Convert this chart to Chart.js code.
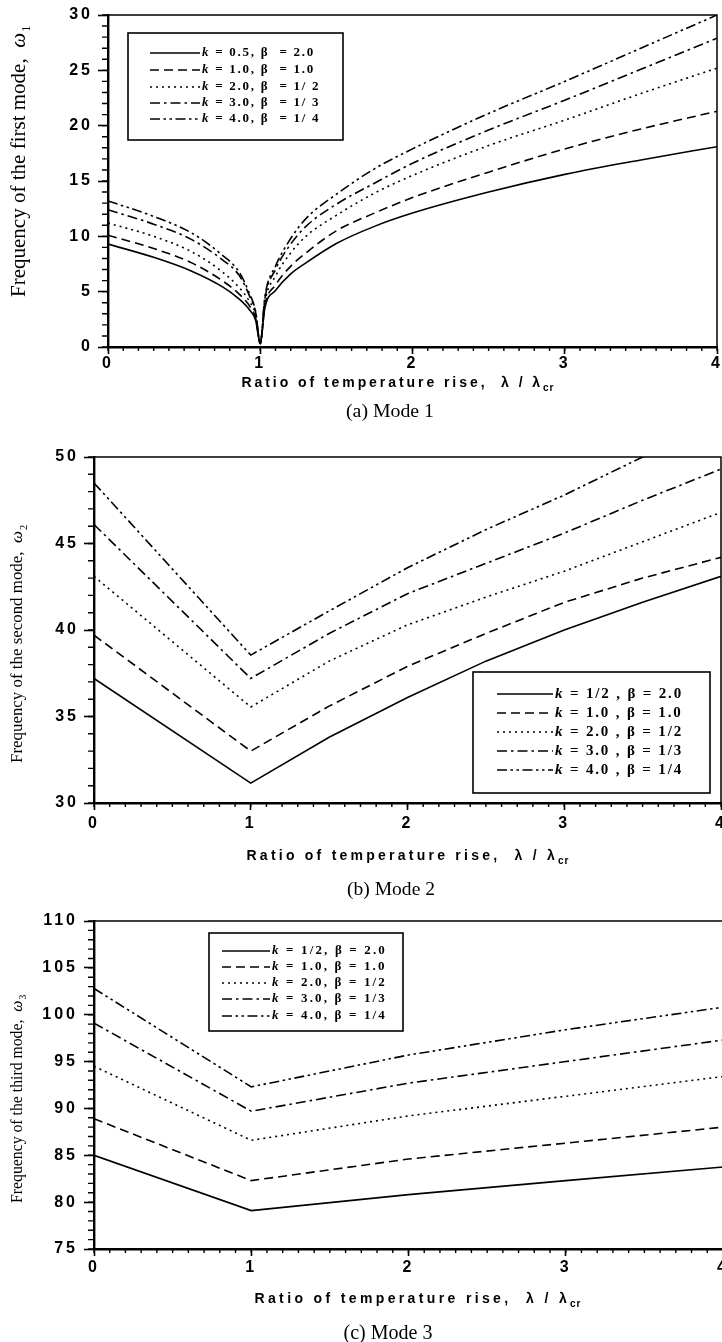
<!DOCTYPE html>
<html><head><meta charset="utf-8">
<script src="https://cdn.jsdelivr.net/npm/chart.js@4"></script>
<style>
html,body{margin:0;padding:0;background:#fff;width:722px;height:1342px;overflow:hidden;position:relative;}
.wrap{position:absolute;left:0;width:740px;}
canvas{display:block;}
</style></head><body>
<div class="wrap" style="top:0;height:440px"><canvas id="c1"></canvas></div>
<div class="wrap" style="top:440px;height:460px"><canvas id="c2"></canvas></div>
<div class="wrap" style="top:900px;height:442px"><canvas id="c3"></canvas></div>
<script>
// ---------- DATA ----------
// Mode 1
const lam1 = [0, 0.3, 0.55, 0.75, 0.86, 0.93, 0.97, 1.0, 1.03, 1.1, 1.2, 1.3, 1.5, 1.75, 2.0, 2.5, 3, 3.5, 4];
const m1_k05 = [9.3, 8.1, 6.85, 5.45, 4.35, 3.35, 2.4, 0.3, 3.5, 5.1, 6.6, 7.6, 9.35, 10.9, 12.1, 14.0, 15.6, 16.9, 18.1];
const m1_k1  = [10.1, 8.9, 7.6, 6.0, 4.8, 3.7, 2.6, 0.3, 3.7, 5.6, 7.3, 8.5, 10.5, 12.1, 13.5, 15.8, 17.9, 19.7, 21.3];
const m1_k2  = [11.2, 10.0, 8.6, 6.8, 5.4, 4.1, 2.9, 0.3, 4.0, 6.4, 8.5, 10.0, 11.9, 13.9, 15.5, 18.2, 20.5, 22.9, 25.2];
const m1_k3  = [12.4, 11.1, 9.7, 7.9, 6.5, 4.6, 3.1, 0.3, 4.3, 7.0, 9.3, 10.9, 12.9, 14.8, 16.6, 19.6, 22.3, 25.1, 27.9];
const m1_k4  = [13.2, 11.8, 10.3, 8.3, 6.8, 4.8, 3.2, 0.3, 4.5, 7.3, 9.8, 11.6, 13.8, 16.1, 17.9, 21.1, 24.0, 27.0, 30.0];
const leg1 = ['k = 0.5, \u03b2  = 2.0', 'k = 1.0, \u03b2  = 1.0', 'k = 2.0, \u03b2  = 1/ 2', 'k = 3.0, \u03b2  = 1/ 3', 'k = 4.0, \u03b2  = 1/ 4'];
// Mode 2
const lam2 = [0, 1, 1.5, 2, 2.5, 3, 3.5, 4];
const m2_k05 = [37.2, 31.15, 33.8, 36.1, 38.2, 40.0, 41.6, 43.1];
const m2_k1  = [39.7, 33.0, 35.6, 37.9, 39.8, 41.6, 43.0, 44.2];
const m2_k2  = [43.1, 35.55, 38.2, 40.3, 41.9, 43.4, 45.1, 46.8];
const m2_k3  = [46.1, 37.2, 39.8, 42.1, 43.85, 45.6, 47.5, 49.3];
const m2_k4  = [48.5, 38.55, 41.1, 43.6, 45.8, 47.8, 50.0, 52.0];
const leg2 = ['k = 1/2 , \u03b2 = 2.0', 'k = 1.0 , \u03b2 = 1.0', 'k = 2.0 , \u03b2 = 1/2', 'k = 3.0 , \u03b2 = 1/3', 'k = 4.0 , \u03b2 = 1/4'];
// Mode 3
const lam3 = [0, 1, 2, 3, 4];
const m3_k05 = [85.0, 79.1, 80.8, 82.3, 83.75];
const m3_k1  = [88.9, 82.3, 84.6, 86.3, 88.0];
const m3_k2  = [94.5, 86.6, 89.2, 91.3, 93.4];
const m3_k3  = [99.1, 89.7, 92.7, 95.0, 97.3];
const m3_k4  = [102.8, 92.3, 95.7, 98.4, 100.8];
const leg3 = ['k = 1/2, \u03b2 = 2.0', 'k = 1.0, \u03b2 = 1.0', 'k = 2.0, \u03b2 = 1/2', 'k = 3.0, \u03b2 = 1/3', 'k = 4.0, \u03b2 = 1/4'];
// axis tick settings
const xTicks = {min: 0, max: 4, step: 1, minor: 0.1};
const yTicks1 = {min: 0, max: 30, step: 5, minor: 1};
const yTicks2 = {min: 30, max: 50, step: 5, minor: 1};
const yTicks3 = {min: 75, max: 110, step: 5, minor: 1};

// ---------- STYLE ----------
const SERIF = '"Liberation Serif", "Times New Roman", serif';
const SANS = '"Liberation Sans", Arial, sans-serif';
const dashes = [[], [9, 5], [2, 4], [10, 4, 2.5, 4], [10, 3.5, 2.5, 3.5, 2.5, 3.5]];

const deco = {
  id: 'deco',
  beforeDraw(chart) { chart.ctx.letterSpacing = chart.options.plugins.deco.tickSpacing + 'px'; },
  afterDraw(chart) {
    const o = chart.options.plugins.deco;
    const ctx = chart.ctx, a = chart.chartArea, xs = chart.scales.x, ys = chart.scales.y;
    ctx.save();
    ctx.letterSpacing = '0px';
    ctx.strokeStyle = '#000'; ctx.fillStyle = '#000';
    // top & right frame
    ctx.lineWidth = 1.5;
    ctx.beginPath(); ctx.moveTo(a.left, a.top); ctx.lineTo(a.right, a.top); ctx.lineTo(a.right, a.bottom); ctx.stroke();
    // minor ticks
    ctx.lineWidth = 1.4; ctx.beginPath();
    const nx = Math.round((xs.max - xs.min) / o.xMinor);
    for (let i = 0; i <= nx; i++) { const p = xs.getPixelForValue(xs.min + i * o.xMinor); ctx.moveTo(p, a.bottom); ctx.lineTo(p, a.bottom + 4); }
    const ny = Math.round((ys.max - ys.min) / o.yMinor);
    for (let i = 0; i <= ny; i++) { const p = ys.getPixelForValue(ys.min + i * o.yMinor); ctx.moveTo(a.left, p); ctx.lineTo(a.left - 6, p); }
    ctx.stroke();
    ctx.textAlign = 'left'; ctx.textBaseline = 'alphabetic';
    // x title
    const t = o.xTitle;
    ctx.font = `bold ${t.size}px ${SANS}`;
    const w0 = ctx.measureText(t.main).width;
    ctx.font = `bold ${t.subSize}px ${SANS}`;
    const ws = ctx.measureText(t.sub).width;
    const n = [...t.main].length;
    const sp = (t.w - w0 - ws) / n;
    let x = t.cx - t.w / 2;
    ctx.font = `bold ${t.size}px ${SANS}`; ctx.letterSpacing = sp + 'px';
    ctx.fillText(t.main, x, t.y);
    x += w0 + sp * n;
    ctx.font = `bold ${t.subSize}px ${SANS}`; ctx.letterSpacing = '1px';
    ctx.fillText(t.sub, x, t.y + 4);
    ctx.letterSpacing = '0px';
    // y title
    const yt = o.yTitle;
    ctx.font = `16px ${SERIF}`; const b0 = ctx.measureText(yt.text).width;
    ctx.font = `italic 16px ${SERIF}`; const b1 = ctx.measureText('\u03c9').width;
    ctx.font = `11px ${SERIF}`; const b2 = ctx.measureText(yt.sub).width;
    const sz = 16 * yt.len / (b0 + b1 + b2 + 2);
    ctx.save();
    ctx.translate(yt.cx, yt.cy); ctx.rotate(-Math.PI / 2);
    let yx = -yt.len / 2; const bl = sz * 0.32;
    ctx.font = `${sz}px ${SERIF}`; ctx.fillText(yt.text, yx, bl); yx += ctx.measureText(yt.text).width;
    ctx.font = `italic ${sz}px ${SERIF}`; ctx.fillText('\u03c9', yx, bl); yx += ctx.measureText('\u03c9').width + 1;
    ctx.font = `${sz * 0.62}px ${SERIF}`; ctx.fillText(yt.sub, yx, bl + sz * 0.25);
    ctx.restore();
    // caption
    const c = o.caption;
    ctx.font = `20px ${SERIF}`; const cw = ctx.measureText(c.text).width;
    const cs = 20 * c.w / cw;
    ctx.font = `${cs}px ${SERIF}`; ctx.textAlign = 'center'; ctx.textBaseline = 'middle';
    ctx.fillText(c.text, c.cx, c.cy);
    // legend
    const L = o.legend;
    ctx.fillStyle = '#fff'; ctx.fillRect(L.x0, L.y0, L.x1 - L.x0, L.y1 - L.y0);
    ctx.lineWidth = 1.6; ctx.strokeRect(L.x0, L.y0, L.x1 - L.x0, L.y1 - L.y0);
    ctx.fillStyle = '#000'; ctx.textAlign = 'left'; ctx.textBaseline = 'middle';
    const dsets = chart.data.datasets;
    const lab0 = dsets[0].label;
    ctx.font = `italic bold ${L.size}px ${SERIF}`; const k0 = ctx.measureText(lab0[0]).width;
    ctx.font = `bold ${L.size}px ${SERIF}`; const r0 = ctx.measureText(lab0.slice(1)).width;
    const lsp = Math.max(0, (L.tw - k0 - r0) / lab0.length);
    dsets.forEach((d, i) => {
      const ry = L.rows[i];
      ctx.setLineDash(d.borderDash); ctx.lineWidth = 1.6;
      ctx.beginPath(); ctx.moveTo(L.lx0, ry); ctx.lineTo(L.lx1, ry); ctx.stroke();
      ctx.setLineDash([]);
      ctx.letterSpacing = lsp + 'px';
      ctx.font = `italic bold ${L.size}px ${SERIF}`;
      ctx.fillText(d.label[0], L.tx, ry);
      const kw = ctx.measureText(d.label[0]).width;
      ctx.font = `bold ${L.size}px ${SERIF}`;
      ctx.fillText(d.label.slice(1), L.tx + kw, ry);
    });
    ctx.restore();
  }
};

function makeDatasets(lam, series, labels, smooth) {
  return series.map((s, i) => ({
    label: labels[i],
    data: lam.map((x, j) => ({x: x, y: s[j]})),
    borderColor: '#000', borderWidth: 1.6, borderDash: dashes[i],
    pointRadius: 0, fill: false,
    tension: 0, cubicInterpolationMode: smooth ? 'monotone' : 'default'
  }));
}

function makeChart(id, lam, series, labels, smooth, yT, L) {
  const tickFont = {family: SANS, size: 16, weight: 'bold'};
  return new Chart(document.getElementById(id), {
    type: 'line',
    data: {datasets: makeDatasets(lam, series, labels, smooth)},
    options: {
      responsive: true, maintainAspectRatio: false, animation: false,
      layout: {padding: {top: L.padTop, right: L.padRight, left: 0, bottom: 0}},
      plugins: {legend: {display: false}, tooltip: {enabled: false}, deco: L.deco},
      scales: {
        x: {type: 'linear', min: xTicks.min, max: xTicks.max,
          ticks: {stepSize: xTicks.step, font: tickFont, color: '#000', padding: L.xPad, maxRotation: 0, autoSkip: false},
          grid: {drawOnChartArea: false, tickLength: 7, tickWidth: 1.6, tickColor: '#000'},
          border: {width: 2.4, color: '#000'},
          afterFit: s => { s.height = L.xH; }},
        y: {type: 'linear', min: yT.min, max: yT.max,
          ticks: {stepSize: yT.step, font: tickFont, color: '#000', padding: L.yPad, autoSkip: false},
          grid: {drawOnChartArea: false, tickLength: 10, tickWidth: 1.6, tickColor: '#000'},
          border: {width: 2.4, color: '#000'},
          afterFit: s => { s.width = L.yW; }}
      }
    },
    plugins: [deco]
  });
}

const XT_MAIN = 'Ratio of temperature rise,  \u03bb / \u03bb';

makeChart('c1', lam1, [m1_k05, m1_k1, m1_k2, m1_k3, m1_k4], leg1, true, yTicks1, {
  padTop: 15, padRight: 23, xH: 93, yW: 108, xPad: 0, yPad: 5,
  deco: {tickSpacing: 3, xMinor: xTicks.minor, yMinor: yTicks1.minor,
    xTitle: {main: XT_MAIN, sub: 'cr', size: 14, subSize: 10, w: 311, cx: 397, y: 387},
    yTitle: {text: 'Frequency of the first mode,  ', sub: '1', cx: 18, cy: 160, len: 274},
    caption: {text: '(a) Mode 1', cx: 390, cy: 412, w: 88},
    legend: {x0: 128, y0: 33, x1: 343, y1: 140, lx0: 150, lx1: 200, tx: 202, tw: 113, size: 13, rows: [53, 70, 87, 103, 119]}}
});

makeChart('c2', lam2, [m2_k05, m2_k1, m2_k2, m2_k3, m2_k4], leg2, false, yTicks2, {
  padTop: 17, padRight: 19, xH: 97, yW: 94, xPad: 4, yPad: 5,
  deco: {tickSpacing: 3, xMinor: xTicks.minor, yMinor: yTicks2.minor,
    xTitle: {main: XT_MAIN, sub: 'cr', size: 14, subSize: 10, w: 321, cx: 407, y: 420},
    yTitle: {text: 'Frequency of the second mode,  ', sub: '2', cx: 17, cy: 203, len: 240},
    caption: {text: '(b) Mode 2', cx: 391, cy: 450, w: 88},
    legend: {x0: 473, y0: 232, x1: 710, y1: 353, lx0: 497, lx1: 553, tx: 555, tw: 128, size: 15, rows: [254, 273, 292, 311, 330]}}
});

makeChart('c3', lam3, [m3_k05, m3_k1, m3_k2, m3_k3, m3_k4], leg3, false, yTicks3, {
  padTop: 21, padRight: 17, xH: 93, yW: 94, xPad: 2, yPad: 6,
  deco: {tickSpacing: 3, xMinor: xTicks.minor, yMinor: yTicks3.minor,
    xTitle: {main: XT_MAIN, sub: 'cr', size: 14, subSize: 10, w: 325, cx: 417, y: 403},
    yTitle: {text: 'Frequency of the third mode,  ', sub: '3', cx: 17, cy: 198, len: 210},
    caption: {text: '(c) Mode 3', cx: 388, cy: 434, w: 89},
    legend: {x0: 209, y0: 33, x1: 403, y1: 131, lx0: 222, lx1: 270, tx: 272, tw: 115, size: 13, rows: [51, 67, 83, 99, 116]}}
});
</script>
</body></html>
